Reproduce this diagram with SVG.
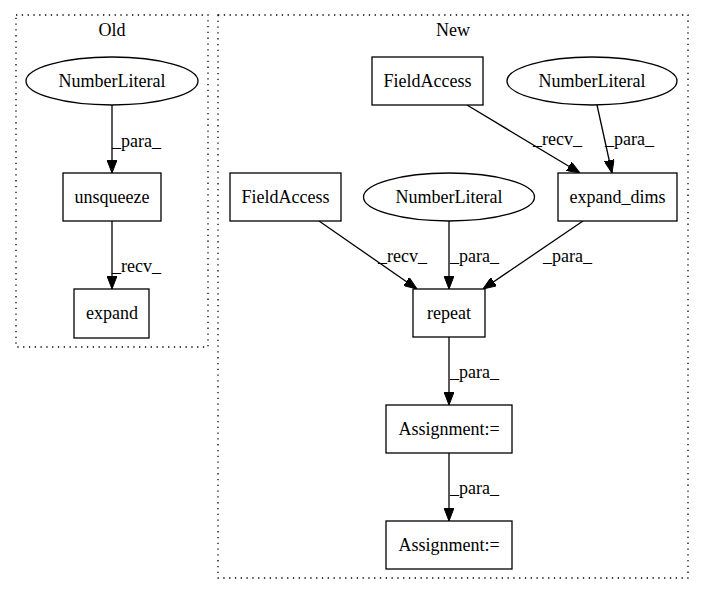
<svg xmlns="http://www.w3.org/2000/svg" width="704" height="596" viewBox="0 0 704 596">
<style>
text{font-family:"Liberation Serif","Times New Roman",serif;font-size:18px;fill:#000}
.n{fill:#fff;stroke:#000;stroke-width:1.3}
.c{fill:none;stroke:#000;stroke-width:1.3;stroke-dasharray:1.3,4.5}
.e{fill:none;stroke:#000;stroke-width:1.3;marker-end:url(#ah)}
.m{text-anchor:middle}
</style>
<defs>
<marker id="ah" viewBox="0 0 13 10" refX="13" refY="5" markerWidth="13" markerHeight="10" markerUnits="userSpaceOnUse" orient="auto">
<path d="M0,0 L13,5 L0,10 z" fill="#000" stroke="#000"/>
</marker>
</defs>
<rect width="704" height="596" fill="#fff"/>
<g id="cluster_old">
<rect class="c" x="16" y="15" width="192" height="332"/>
<text class="m" x="112" y="36">Old</text>
</g>
<g id="cluster_new">
<rect class="c" x="218" y="15" width="470" height="563"/>
<text class="m" x="453" y="36">New</text>
</g>
<g id="connectors">
<path class="e" d="M112,105 L112,173"/>
<text x="112" y="147">_para_</text>
<path class="e" d="M112,221 L112,289"/>
<text x="112" y="272">_recv_</text>
<path class="e" d="M467,105 L580,173"/>
<text x="533" y="145">_recv_</text>
<path class="e" d="M597,105 L612,173"/>
<text x="605" y="145">_para_</text>
<path class="e" d="M319,221 L417,289"/>
<text x="378" y="262">_recv_</text>
<path class="e" d="M449,221 L449,289"/>
<text x="450" y="262">_para_</text>
<path class="e" d="M583,221 L483,289"/>
<text x="543" y="262">_para_</text>
<path class="e" d="M449,337 L449,405"/>
<text x="450" y="378">_para_</text>
<path class="e" d="M449,453 L449,521"/>
<text x="450" y="494">_para_</text>
</g>
<g id="old_numberliteral">
<ellipse class="n" cx="112" cy="81" rx="86" ry="24"/>
<text class="m" x="112" y="87">NumberLiteral</text>
</g>
<g id="old_unsqueeze">
<rect class="n" x="63" y="173" width="98" height="48"/>
<text class="m" x="112" y="203">unsqueeze</text>
</g>
<g id="old_expand">
<rect class="n" x="74" y="289" width="75" height="49"/>
<text class="m" x="112" y="319">expand</text>
</g>
<g id="new_fieldaccess1">
<rect class="n" x="372" y="57" width="111" height="48"/>
<text class="m" x="427.5" y="87">FieldAccess</text>
</g>
<g id="new_numberliteral1">
<ellipse class="n" cx="592" cy="81" rx="85" ry="24"/>
<text class="m" x="592" y="87">NumberLiteral</text>
</g>
<g id="new_expand_dims">
<rect class="n" x="558" y="173" width="119" height="48"/>
<text class="m" x="617.5" y="203">expand_dims</text>
</g>
<g id="new_fieldaccess2">
<rect class="n" x="230" y="173" width="111" height="48"/>
<text class="m" x="285.5" y="203">FieldAccess</text>
</g>
<g id="new_numberliteral2">
<ellipse class="n" cx="449" cy="197" rx="85.5" ry="24"/>
<text class="m" x="449" y="203">NumberLiteral</text>
</g>
<g id="new_repeat">
<rect class="n" x="413" y="289" width="72" height="48"/>
<text class="m" x="449" y="319">repeat</text>
</g>
<g id="new_assignment1">
<rect class="n" x="386" y="405" width="126" height="48"/>
<text class="m" x="449" y="435">Assignment:=</text>
</g>
<g id="new_assignment2">
<rect class="n" x="386" y="521" width="126" height="48"/>
<text class="m" x="449" y="551">Assignment:=</text>
</g>
</svg>
